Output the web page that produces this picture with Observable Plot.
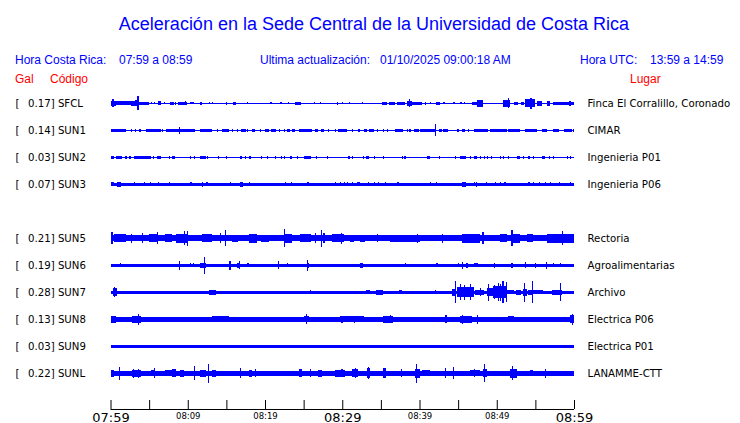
<!DOCTYPE html>
<html><head><meta charset="utf-8">
<script src="https://cdn.jsdelivr.net/npm/d3@7"></script>
<script src="https://cdn.jsdelivr.net/npm/@observablehq/plot@0.6"></script>
<style>
body{margin:0;background:#fff;}
#wrap{position:relative;width:740px;height:423px;font-family:"Liberation Sans",Arial,sans-serif;overflow:hidden;}
.h{position:absolute;white-space:pre;line-height:1;font-size:12px;}
.blue{color:#0000ff;}
.red{color:#ff0000;}
#chart{position:absolute;left:0;top:88px;}
#chart svg rect{shape-rendering:crispEdges;}
</style></head><body>
<div id="wrap">
  <div class="h blue" style="left:0;width:748px;text-align:center;top:15px;font-size:18px;">Aceleración en la Sede Central de la Universidad de Costa Rica</div>
  <div class="h blue" style="left:15px;top:54px;">Hora Costa Rica:</div>
  <div class="h blue" style="left:119px;top:54px;">07:59 a 08:59</div>
  <div class="h blue" style="left:260px;top:54px;">Ultima actualización:</div>
  <div class="h blue" style="left:380px;top:54px;">01/10/2025 09:00:18 AM</div>
  <div class="h blue" style="left:580px;top:54px;">Hora UTC:</div>
  <div class="h blue" style="left:650px;top:54px;">13:59 a 14:59</div>
  <div class="h red" style="left:15px;top:73px;">Gal</div>
  <div class="h red" style="left:50px;top:73px;">Código</div>
  <div class="h red" style="left:630px;top:73px;">Lugar</div>
  <div id="chart"></div>
</div>
<script>
// ---- data ----
const codes  = ["SFCL","SUN1","SUN2","SUN3","SUN5","SUN6","SUN7","SUN8","SUN9","SUNL"];
const galMax = ["0.17","0.14","0.03","0.07","0.21","0.19","0.28","0.13","0.03","0.22"];
const places = ["Finca El Corralillo, Coronado","CIMAR","Ingenieria P01","Ingenieria P06","Rectoria","Agroalimentarias","Archivo","Electrica P06","Electrica P01","LANAMME-CTT"];
const slots  = [0,1,2,3,5,6,7,8,9,10];
// baseline half-thickness of each trace (relative amplitude units)
const baseAmp = [0.5,0.5,0.5,1.35,2.9,1.4,1.4,2.5,1.4,2.3];
// time window in minutes after 07:59
const timeWindow = [0,60];
const tickMinutes = [0,5,10,15,20,25,30,35,40,45,50,55,60];
const labelMinutes = [0,10,20,30,40,50,60];
const labelTexts = ["07:59","08:09","08:19","08:29","08:39","08:49","08:59"];
const labelBig = [true,false,false,true,false,false,true];

// bursts per station: [start minute, end minute, half-amplitude]
const sfcl = [[0,0.65,2.5],[0.2,0.4,4],[0.65,2.6,2],[2.6,3.2,2.5],[3.2,3.45,3],[3.45,3.7,7],[3.7,5,1.2],[5.2,5.3,1],[5.6,5.7,1],[6.2,6.5,2],[6.9,7,1],[7.7,8.2,1.4],[8.4,8.5,1.2],[8.75,9.9,1.4],[9.6,9.7,2],[10.3,10.8,1],[11.55,11.85,1.2],[12.8,12.9,1],[13.1,13.2,1],[14.9,15.1,1.2],[15.9,16.2,1.2],[17.7,17.8,1],[20.7,20.9,1],[22,22.1,1],[23,23.1,1],[23.9,24.7,1.4],[26.3,26.4,1],[27.1,27.2,1],[29.3,29.5,1.4],[30,30.1,1],[30.9,31,1],[32.5,32.6,1],[35.2,35.8,1.4],[36.1,36.85,1.2],[37.15,38.1,1.4],[37.6,37.8,1.7],[38.4,39,2.6],[38.6,38.8,4],[39,40.3,1.4],[40.7,40.8,1.2],[41.4,41.5,1],[42.2,42.7,1.4],[43.1,43.2,1],[44.4,44.5,1],[45.3,45.4,1],[45.7,45.8,1],[46.8,47.4,1.2],[47.5,48.2,3.3],[50.8,51.7,3.3],[51.4,51.6,5],[52.2,52.8,1.2],[53.2,53.5,1.2],[53.65,54.9,4],[54.3,54.6,5.3],[55.2,55.8,2.3],[56.5,56.9,2.3],[57.3,60,1.7],[59.4,59.6,2.3]];
const sun1 = [[0,1.95,1.4],[2.6,2.7,1.4],[3.15,3.3,1.4],[3.7,3.9,1.4],[4.6,6.5,1.5],[6.7,6.8,1.4],[7.2,8,1.4],[8,8.9,1.8],[8.85,8.95,3.3],[9.05,11,1.5],[11.6,13.1,1.4],[13.8,13.9,1.4],[14.4,15.3,1.4],[15.7,15.8,1.4],[16.4,16.5,1.4],[16.9,17.5,1.4],[17.7,17.8,1.4],[18.3,18.75,1.4],[19.4,19.5,1.4],[20,20.5,1.4],[20.8,21.4,1.4],[21.8,21.9,1.4],[22.4,22.5,1.4],[22.8,23.3,1.4],[23.5,23.9,1.4],[24.35,26.1,1.4],[26.5,26.9,1.4],[27.3,27.6,1.4],[28.2,28.3,1.4],[29.1,29.2,1.4],[29.5,30.6,1.4],[31.25,31.35,1.4],[32.1,32.2,1.4],[32.8,33.2,1.4],[33.4,34.05,1.4],[34.5,34.6,1.4],[35.3,35.4,1.4],[35.8,35.9,1.4],[36.85,37.85,1.4],[38.4,38.5,1.4],[38.7,38.8,1.4],[39.3,39.9,1.4],[40.1,42,1.5],[42.05,42.2,6],[42.5,42.9,1.4],[43.1,43.75,1.4],[44.8,45.05,1.4],[45.5,45.9,1.4],[46.3,46.4,1.4],[47,47.1,1.8],[47.2,48.9,1.4],[49.1,51.3,1.4],[50.3,50.4,1.8],[51.5,53,1.4],[53.6,55.2,1.4],[55.8,56.5,1.4],[57.3,58.1,1.4],[58.7,59.7,1.4],[59.9,60,1.4]];
const sun2 = [[0,0.45,1.4],[0.65,1.5,1.4],[1.94,2.04,1.4],[2.4,2.6,1.4],[3,5.2,1.4],[5.5,5.6,1.4],[6.05,6.5,1.4],[7.55,7.65,1.4],[7.9,8.4,1.4],[10.3,10.4,1.4],[10.8,10.9,1.4],[11.6,12.3,1.4],[12.5,12.6,1.4],[13.9,14,1.2],[14.9,15,1.2],[16.7,17,1.6],[17.45,17.55,1.4],[17.9,18.2,1.4],[19.5,19.6,1.2],[20.25,20.35,1.4],[21.3,21.4,1.2],[22.1,22.2,1.2],[22.5,22.6,1.2],[23.3,23.5,1.4],[24.1,24.2,1.2],[25.1,25.9,1.2],[26.6,26.7,1.4],[28,28.1,1.2],[30.8,30.9,1.4],[31.25,31.35,1.4],[32.7,32.8,1.2],[33.1,33.4,1.4],[34.1,34.2,1.4],[35.3,35.4,1.2],[37.7,37.8,1.2],[38.05,38.15,1.2],[41,41.4,1.4],[42.5,42.6,1.4],[44.6,44.7,1.2],[45.3,46,1.6],[46.5,46.6,1.2],[47.1,47.4,1.4],[47.8,47.9,1.2],[48.3,48.4,1.2],[48.7,48.8,1.4],[49.2,49.3,1.2],[50.4,50.5,1.2],[50.8,50.9,1.2],[51.5,51.6,1.2],[52.6,53,1.4],[53.4,53.5,1.2],[54,54.3,1.4],[54.7,54.8,1.2],[55.8,56.25,1.4],[56.8,56.9,1.2],[57.3,57.4,1.2],[59.05,59.15,1.2],[59.5,59.6,1.4]];
const sun3 = [[0,0.45,2],[0.85,1.3,2.2],[3,3.1,2],[4.3,4.4,2],[5.05,5.15,2],[6.2,6.3,2],[7.55,7.65,2],[10.35,10.45,2],[11.8,11.95,2.6],[12.3,12.6,2],[15.5,15.6,2],[16.8,17.1,2.2],[17.9,18,2],[22.6,22.7,2],[23.4,23.5,2],[25.4,25.65,2],[29,29.1,2],[29.7,29.9,2],[30.2,30.3,2],[30.6,30.7,2],[31.3,31.4,2],[31.9,32,2],[32.1,32.2,2],[33.3,33.4,2],[34.05,34.15,2],[34.6,34.7,2],[35.5,35.6,2],[37.15,37.25,2],[41.3,41.4,2],[42.1,42.2,2],[45.5,46,2.4],[47,47.1,2],[47.3,47.4,2.5],[48.6,48.7,2],[49.8,49.9,2],[50.4,50.5,2],[51,51.1,2],[54.1,54.2,2],[54.7,54.8,2],[55.5,55.6,2],[56.25,56.35,2],[56.9,57,2],[58.1,58.2,2],[59.5,59.6,2]];
const sun5 = [[0,0.3,6],[0.5,2,4],[2.6,2.7,4.5],[4.1,4.2,5],[5,6,4],[6,6.1,6],[7,8,4],[8.5,10,4.5],[9.55,9.65,7],[9.9,10,7.5],[11.8,13.1,4],[14.2,14.3,5],[14.8,14.9,8],[15.7,16.5,3.5],[17.9,19,4.5],[19.5,20.5,3.5],[22.4,22.5,9],[22.5,23.5,4.5],[24.5,26,4],[26.5,26.6,5],[27.3,27.4,8.7],[27.5,27.8,5],[28.7,30.2,4],[29.8,29.9,5.7],[31,31.5,3.7],[32.3,33,3.5],[34.5,34.6,4],[36.2,40.1,3.5],[39.7,39.8,4.7],[42.9,43.1,4.3],[45.5,47.8,4.3],[48.1,48.3,6],[50.4,51.3,4],[51.9,52,8],[52.1,53,4.5],[53.9,54.7,4],[56.5,60,4.3],[58.4,58.5,7]];
const sun6 = [[1.2,1.3,2],[1.6,1.75,1.8],[2.7,2.8,1.8],[8.9,9,4.3],[10.25,10.35,2],[10.7,10.8,2],[11.55,12.3,2.7],[12.05,12.15,8.3],[15.4,15.5,4.3],[16.4,16.8,2.5],[16.6,16.7,4],[17.7,17.9,2],[21.7,21.8,4],[22.85,22.95,2],[24.3,24.4,1.8],[25.4,25.5,5.7],[25.55,25.65,2.5],[28.7,28.8,1.8],[29.3,29.4,1.8],[30.4,30.5,1.8],[32.3,32.7,2.3],[34.05,34.15,1.8],[35.35,35.45,1.8],[36.6,36.7,1.8],[38.1,38.2,2],[40.5,40.6,1.8],[42.2,42.3,2],[45,45.1,2],[45.5,45.6,3.5],[46,46.3,2.5],[47,47.6,2],[49.65,49.75,2.5],[51.9,52,2.3],[53.65,53.75,3],[54.9,55,2.3],[56.4,56.5,3.5],[57.3,57.4,2],[58.2,58.3,2]];
const sun7 = [[0.3,0.85,4],[0.5,0.6,5],[1.1,1.7,1.8],[2.7,2.8,1.8],[3.15,3.3,1.8],[7.1,7.2,1.8],[7.7,7.8,1.8],[8.2,8.6,1.8],[9.9,10.35,1.8],[12.2,12.3,1.8],[12.8,13.6,2.3],[14.2,14.3,1.8],[15,15.1,1.8],[15.7,15.8,1.8],[16.5,16.6,1.8],[18.3,18.4,1.8],[19.4,19.6,1.8],[20.05,20.4,1.8],[20.8,20.9,1.8],[21.7,22,1.8],[22.7,23,1.8],[23.6,23.7,1.8],[24.6,24.8,1.8],[25.2,25.3,1.8],[25.8,25.9,2],[26.9,27,1.8],[27.6,28,1.8],[30.6,30.7,1.8],[32.1,32.3,1.8],[33.1,33.6,2],[34.4,35.3,2.3],[36.1,36.2,1.8],[37.3,37.7,2],[42,42.1,2],[43.7,43.8,1.8],[44.2,44.6,3.3],[44.6,44.75,11],[44.8,46.1,5],[45.2,45.3,8],[45.7,45.8,7.5],[46.1,47,5],[46.5,46.6,8],[47.2,48.3,2.7],[47.8,47.9,4],[48.7,50,4],[48.9,49,8.7],[49.5,51.3,6],[49.6,49.7,7],[50.1,50.2,9],[50.4,50.5,8.5],[50.7,50.9,11],[51.2,51.3,10],[51.3,52.2,2],[52.5,53.2,2.5],[53.4,53.9,3.3],[53.5,53.6,9.7],[54.1,54.5,2.3],[54.55,54.7,11],[54.7,56,2],[57.1,58.4,2.7],[58.15,58.25,9],[58.6,60,1.5]];
const sun8 = [[0,0.65,3.3],[1.5,1.6,2.8],[2.2,2.3,2.8],[2.8,3.9,3.3],[3.55,3.65,5.7],[4.5,4.6,2.8],[5.1,5.2,2.8],[5.6,6.25,2.8],[6.8,6.9,2.8],[7.5,7.6,2.8],[8.2,8.8,2.8],[9.3,9.4,2.8],[10,10.1,2.8],[10.8,10.9,2.8],[11.85,12.3,2.8],[13.1,15.3,3],[16.6,17.45,2.8],[18.2,18.3,2.8],[19.3,19.4,2.8],[20.1,20.2,2.8],[21,21.1,2.8],[22.2,23.5,2.8],[24.1,24.2,2.8],[25,25.65,3],[25.35,25.45,5],[26.3,26.4,2.8],[27.2,27.3,2.8],[27.8,28.7,2.8],[29.2,29.3,2.8],[29.7,32.8,3],[29.9,30.1,3.5],[31.5,31.6,3.5],[35.3,36.6,3.3],[36.2,36.3,4],[38.4,39.7,2.8],[40.7,42.7,2.8],[43.3,43.5,4],[45.3,46.8,3.3],[45.5,45.6,4.7],[47.4,47.5,4.7],[49.3,50,2.8],[51.5,52.2,3],[53.2,53.6,2.8],[55.2,56.5,2.8],[57.3,58.2,2.8],[59.5,60,4],[59.75,59.85,5.5]];
const sun9 = [];
const sunl = [[0,0.45,3.3],[1.05,1.15,6.7],[1.5,1.9,2.7],[2.8,3.9,3.3],[2.95,3.05,4.3],[3.6,3.7,4.3],[5.3,5.8,3],[5.6,5.7,5],[7.1,8.4,3],[8,8.5,4],[9.05,9.5,3.3],[10.85,10.95,7],[11.6,12.3,3.3],[12.65,12.75,9.3],[13.1,13.6,3.3],[14.9,15.5,2.7],[16.75,16.85,5],[17.9,18.3,3.3],[18.7,18.8,4],[20,20.9,2.7],[21.8,22.6,2.5],[24.35,24.8,4],[25.85,25.95,4],[26.9,27.4,3.3],[29.1,30.4,3.3],[29.9,30,4],[31.25,32.1,4],[31.65,31.75,5],[33.2,33.6,5],[33.35,33.45,6],[35,36,2.7],[35.3,35.6,5],[36.6,38.4,2.7],[37.65,37.75,4],[39.4,40.1,4.7],[39.6,39.7,9.3],[40.3,41.4,3],[41.8,42.5,2.7],[43.25,43.35,5],[44.35,44.45,6],[46.5,47.8,3],[47.1,47.2,4],[48.2,48.7,4],[48.35,48.45,9],[50.4,50.5,2.7],[51.7,52.6,4.7],[51.95,52.05,7],[53.2,53.9,2.3],[54.3,54.7,3],[55.6,56,2.3],[56.2,56.3,4.7],[57.3,57.7,2.7]];
const bursts = [sfcl,sun1,sun2,sun3,sun5,sun6,sun7,sun8,sun9,sunl];

// ---- layout ----
const rowGap = 27;          // px between trace slots
const axisPos = 305.7;      // y of the time axis (same units)
const tickLen = 9;
const W = 740, H = 335;
const mL = 110.5, mR = 166, mT = 15.3, mB = 14;
const labelFont = 10.2;

const stations = codes.map((c,i)=>({code:c, gal:galMax[i], place:places[i], slot:slots[i], base:baseAmp[i]}));
const baseRects = stations.map(s=>({t0:timeWindow[0], t1:timeWindow[1], c:s.slot*rowGap, a:s.base}));
const burstRects = stations.flatMap((s,i)=>bursts[i].map(([t0,t1,a])=>({t0, t1:Math.max(t1,t0+0.14), c:s.slot*rowGap, a})));
const labels = labelMinutes.map((m,i)=>({m, t:labelTexts[i], big:labelBig[i]}));
const blue = "#0000ff";

const chart = Plot.plot({
  width: W, height: H,
  marginLeft: mL, marginRight: mR, marginTop: mT, marginBottom: mB,
  x: {domain: timeWindow, axis: null},
  y: {domain: [0, axisPos], range: [mT, H - mB], axis: null},
  style: {fontFamily: "DejaVu Sans", fontSize: labelFont + "px", background: "#fff", color: "#000", overflow: "visible"},
  marks: [
    Plot.rect(baseRects, {x1:"t0", x2:"t1", y1:d=>d.c-d.a, y2:d=>d.c+d.a, fill: blue}),
    Plot.rect(burstRects, {x1:"t0", x2:"t1", y1:d=>d.c-d.a, y2:d=>d.c+d.a, fill: blue}),
    Plot.ruleY([axisPos], {stroke:"#000", strokeWidth:1}),
    Plot.ruleX(tickMinutes, {x:d=>d, y1:axisPos-tickLen, y2:axisPos, stroke:"#000"}),
    Plot.text(labels.filter(d=>d.big), {x:"m", text:"t", frameAnchor:"bottom", lineAnchor:"bottom", dy:12, fontSize:13, fill:"#000"}),
    Plot.text(labels.filter(d=>!d.big), {x:"m", text:"t", frameAnchor:"bottom", lineAnchor:"bottom", dy:9, fontSize:8.5, fill:"#000"}),
    Plot.text(stations, {y:d=>d.slot*rowGap, text:()=>"[", frameAnchor:"left", dx:-95.5, textAnchor:"start", fontSize:labelFont, fill:"#000"}),
    Plot.text(stations, {y:d=>d.slot*rowGap, text:d=>`${d.gal}] ${d.code}`, frameAnchor:"left", dx:-83, textAnchor:"start", fontSize:labelFont, fill:"#000"}),
    Plot.text(stations, {y:d=>d.slot*rowGap, text:"place", frameAnchor:"right", dx:13, textAnchor:"start", fontSize:labelFont, fill:"#000"})
  ]
});
document.getElementById("chart").appendChild(chart);
</script>
</body></html>
